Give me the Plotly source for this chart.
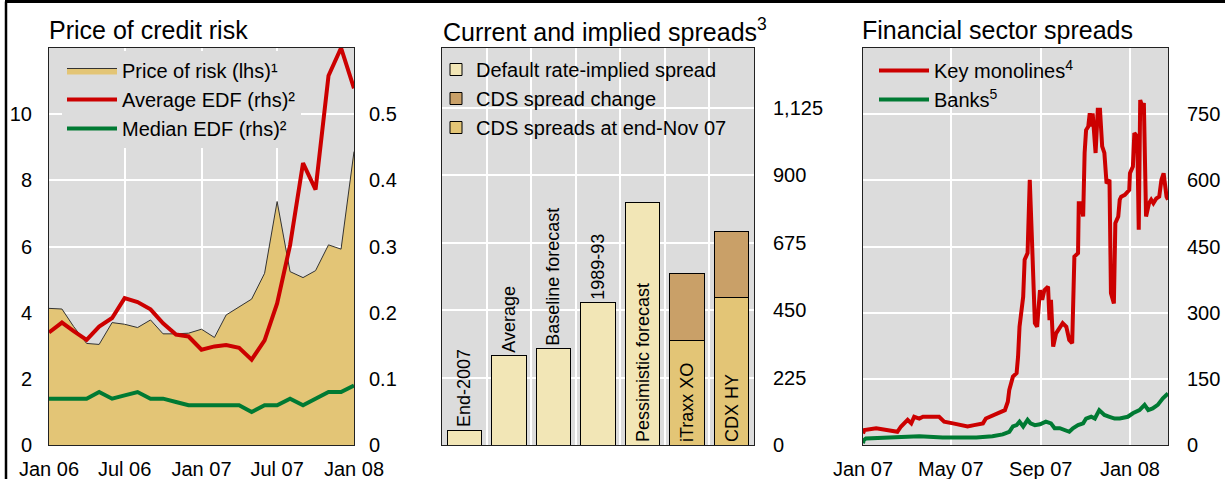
import plotly.graph_objects as go
import pandas as pd

# ---------------- Data ----------------
# Panel 1: Price of credit risk (monthly, Jan 06 - Jan 08)
months = [d.strftime("%Y-%m-%d") for d in pd.date_range("2006-01-01", periods=25, freq="MS")]
price_of_risk = [4.13, 4.11, 3.58, 3.07, 3.04, 3.70, 3.65, 3.55, 3.78, 3.36, 3.36, 3.38,
                 3.50, 3.25, 3.93, 4.18, 4.41, 5.19, 7.36, 5.24, 5.06, 5.27, 6.05, 5.92, 8.87]
average_edf = [0.170, 0.185, 0.172, 0.159, 0.179, 0.192, 0.222, 0.216, 0.205, 0.184, 0.167, 0.164,
               0.144, 0.149, 0.151, 0.147, 0.129, 0.158, 0.214, 0.302, 0.426, 0.386, 0.558, 0.600, 0.539]
median_edf = [0.07, 0.07, 0.07, 0.07, 0.08, 0.07, 0.075, 0.08, 0.07, 0.07, 0.065, 0.06,
              0.06, 0.06, 0.06, 0.06, 0.05, 0.06, 0.06, 0.07, 0.06, 0.07, 0.08, 0.08, 0.09]
p1_xticks = ["2006-01-01", "2006-07-01", "2007-01-01", "2007-07-01", "2008-01-01"]
p1_xlabels = ["Jan 06", "Jul 06", "Jan 07", "Jul 07", "Jan 08"]

# Panel 2: Current and implied spreads
categories = ["End-2007", "Average", "Baseline forecast", "1989-93",
              "Pessimistic forecast", "iTraxx XO", "CDX HY"]
default_implied = [50, 298, 321, 475, 810, None, None]
cds_end_nov = [None, None, None, None, None, 348, 492]
cds_change = [None, None, None, None, None, 224, 221]
bar_label_pos = ["outside", "outside", "outside", "outside", "inside"]
p2_yticks = [0, 225, 450, 675, 900, 1125]

# Panel 3: Financial sector spreads
mono_dates = ["2007-01-01", "2007-01-03", "2007-01-19", "2007-02-06", "2007-02-17", "2007-02-22",
              "2007-03-03", "2007-03-08", "2007-03-12", "2007-03-19", "2007-03-24", "2007-04-15",
              "2007-04-22", "2007-05-04", "2007-05-13", "2007-05-24", "2007-06-02", "2007-06-14",
              "2007-06-18", "2007-06-27", "2007-07-07", "2007-07-14", "2007-07-18", "2007-07-20",
              "2007-07-25", "2007-07-30", "2007-08-01", "2007-08-03", "2007-08-08", "2007-08-10",
              "2007-08-14", "2007-08-17", "2007-08-20", "2007-08-24", "2007-08-27", "2007-08-31",
              "2007-09-03", "2007-09-06", "2007-09-11", "2007-09-13", "2007-09-15", "2007-09-18",
              "2007-09-22", "2007-09-27", "2007-10-01", "2007-10-06", "2007-10-10", "2007-10-14",
              "2007-10-17", "2007-10-22", "2007-10-23", "2007-10-26", "2007-10-29", "2007-10-31",
              "2007-11-02", "2007-11-05", "2007-11-07", "2007-11-09", "2007-11-11", "2007-11-15",
              "2007-11-18", "2007-11-21", "2007-11-24", "2007-11-27", "2007-11-30", "2007-12-04",
              "2007-12-06", "2007-12-10", "2007-12-12", "2007-12-16", "2007-12-18", "2007-12-20",
              "2007-12-25", "2007-12-31", "2008-01-01", "2008-01-05", "2008-01-07", "2008-01-11",
              "2008-01-13", "2008-01-15", "2008-01-18", "2008-01-20", "2008-01-23", "2008-01-27",
              "2008-01-30", "2008-02-02", "2008-02-06", "2008-02-10", "2008-02-13", "2008-02-16",
              "2008-02-20", "2008-02-22"]
monolines = [26, 34, 38, 34, 30, 42, 57, 49, 64, 60, 64, 64,
             53, 49, 45, 42, 45, 49, 60, 66, 72, 79, 98, 125,
             155, 163, 200, 268, 336, 420, 435, 601, 465, 276, 268, 351,
             329, 351, 359, 283, 329, 223, 253, 268, 276, 268, 238, 231,
             427, 435, 548, 548, 518, 662, 714, 722, 752, 722, 752, 662,
             760, 760, 677, 662, 593, 601, 344, 321, 503, 518, 556, 563,
             567, 578, 616, 631, 707, 699, 488, 782, 767, 775, 518, 548,
             556, 548, 559, 563, 601, 616, 563, 556]
bank_dates = ["2007-01-01", "2007-01-02", "2007-01-05", "2007-02-11", "2007-03-19", "2007-04-20",
              "2007-06-05", "2007-06-27", "2007-07-11", "2007-07-20", "2007-07-25", "2007-07-30",
              "2007-08-03", "2007-08-08", "2007-08-14", "2007-08-18", "2007-08-24", "2007-08-31",
              "2007-09-08", "2007-09-15", "2007-09-20", "2007-09-27", "2007-10-04", "2007-10-10",
              "2007-10-15", "2007-10-22", "2007-10-29", "2007-11-02", "2007-11-09", "2007-11-14",
              "2007-11-20", "2007-11-27", "2007-12-04", "2007-12-11", "2007-12-18", "2007-12-29",
              "2008-01-05", "2008-01-10", "2008-01-14", "2008-01-21", "2008-01-26", "2008-02-01",
              "2008-02-08", "2008-02-15", "2008-02-22"]
banks = [4, 11, 15, 17, 20, 17, 17, 20, 24, 30, 42, 45,
         53, 42, 57, 49, 45, 47, 53, 49, 38, 38, 34, 30,
         38, 45, 49, 60, 64, 60, 79, 68, 64, 60, 60, 64,
         72, 76, 79, 91, 79, 83, 91, 106, 117]
p3_xticks = ["2007-01-01", "2007-05-01", "2007-09-01", "2008-01-01"]
p3_xlabels = ["Jan 07", "May 07", "Sep 07", "Jan 08"]
p3_yticks = [0, 150, 300, 450, 600, 750]

# ---------------- Style ----------------
W, H = 1225, 479
FONT = "Arial, Liberation Sans, sans-serif"
PLOT_BG = "#DCDCDC"
RED = "#CC0000"
GREEN = "#007A33"
GOLD = "#E3C576"
LIGHT = "#F2E6B6"
BROWN = "#C9A068"
TICK_FONT = dict(family=FONT, size=20, color="black")
LABEL_FONT = dict(family=FONT, size=18, color="black")

def px_x(p):
    return p / W

def px_y(p):
    return 1 - p / H

ydom = [px_y(445), px_y(48)]

fig = go.Figure()

# Panel 1 traces
fig.add_trace(go.Scatter(x=months, y=price_of_risk, name="Price of risk (lhs)¹",
                         mode="lines", fill="tozeroy", fillcolor=GOLD,
                         line=dict(color="#333333", width=1),
                         xaxis="x", yaxis="y", legend="legend"))
fig.add_trace(go.Scatter(x=months, y=average_edf, name="Average EDF (rhs)²",
                         mode="lines", line=dict(color=RED, width=4),
                         xaxis="x", yaxis="y2", legend="legend"))
fig.add_trace(go.Scatter(x=months, y=median_edf, name="Median EDF (rhs)²",
                         mode="lines", line=dict(color=GREEN, width=4),
                         xaxis="x", yaxis="y2", legend="legend"))

# Panel 2 traces
fig.add_trace(go.Bar(x=categories[:5], y=default_implied[:5], name="Default rate-implied spread",
                     marker=dict(color=LIGHT, line=dict(color="black", width=1)),
                     width=0.77, text=categories[:5], textposition=bar_label_pos,
                     textangle=-90, insidetextanchor="start", cliponaxis=False,
                     constraintext="none",
                     textfont=LABEL_FONT, insidetextfont=LABEL_FONT, outsidetextfont=LABEL_FONT,
                     xaxis="x2", yaxis="y3", legend="legend2", legendrank=1))
fig.add_trace(go.Bar(x=categories[5:], y=cds_end_nov[5:], name="CDS spreads at end-Nov 07",
                     marker=dict(color=GOLD, line=dict(color="black", width=1)),
                     width=0.77, text=categories[5:],
                     textposition="inside", textangle=-90, insidetextanchor="start",
                     constraintext="none", insidetextfont=LABEL_FONT,
                     xaxis="x2", yaxis="y3", legend="legend2", legendrank=3))
fig.add_trace(go.Bar(x=categories[5:], y=cds_change[5:], name="CDS spread change",
                     marker=dict(color=BROWN, line=dict(color="black", width=1)),
                     width=0.77,
                     xaxis="x2", yaxis="y3", legend="legend2", legendrank=2))

# Panel 3 traces
fig.add_trace(go.Scatter(x=mono_dates, y=monolines, name="Key monolines<sup>4</sup>",
                         mode="lines", line=dict(color=RED, width=4),
                         xaxis="x3", yaxis="y4", legend="legend3"))
fig.add_trace(go.Scatter(x=bank_dates, y=banks, name="Banks<sup>5</sup>",
                         mode="lines", line=dict(color=GREEN, width=4),
                         xaxis="x3", yaxis="y4", legend="legend3"))

axis_common = dict(showline=True, linecolor="#222222", linewidth=1, mirror=True,
                   ticks="", tickfont=TICK_FONT, gridcolor="white", gridwidth=2,
                   zeroline=False, automargin=False)

legend_common = dict(font=dict(family=FONT, size=20, color="black"),
                     borderwidth=0, yanchor="top",
                     xanchor="left", tracegroupgap=0, traceorder="normal")

fig.update_layout(
    width=W, height=H, autosize=False,
    margin=dict(l=0, r=0, t=0, b=0, autoexpand=False),
    paper_bgcolor="white", plot_bgcolor=PLOT_BG,
    font=dict(family=FONT, size=20, color="black"),
    barmode="stack",
    showlegend=True,
    xaxis=dict(domain=[px_x(49), px_x(354)], anchor="y", type="date",
               range=["2006-01-01", "2008-01-01"], tickvals=p1_xticks, ticktext=p1_xlabels,
               showgrid=True, ticklabelstandoff=6, **axis_common),
    yaxis=dict(domain=ydom, anchor="x", range=[0, 12], tickvals=[0, 2, 4, 6, 8, 10],
               showgrid=True, ticklabelstandoff=12, **axis_common),
    yaxis2=dict(overlaying="y", anchor="x", side="right", range=[0, 0.6],
                tickvals=[0, 0.1, 0.2, 0.3, 0.4, 0.5], showgrid=False, showline=False,
                ticks="", tickfont=TICK_FONT, zeroline=False, ticklabelstandoff=14,
                automargin=False),
    xaxis2=dict(domain=[px_x(442), px_x(754)], anchor="y3", type="category",
                categoryorder="array", categoryarray=categories,
                range=[-0.5, 6.5], showticklabels=False, tickson="boundaries",
                showgrid=True, **axis_common),
    yaxis3=dict(domain=ydom, anchor="x2", side="right", range=[0, 1325],
                tickvals=p2_yticks, tickformat=",", showgrid=True,
                ticklabelstandoff=14, **axis_common),
    xaxis3=dict(domain=[px_x(863), px_x(1168)], anchor="y4", type="date",
                range=["2007-01-01", "2008-02-22"], tickvals=p3_xticks, ticktext=p3_xlabels,
                showgrid=True, ticklabelstandoff=6, **axis_common),
    yaxis4=dict(domain=ydom, anchor="x3", side="right", range=[0, 900],
                tickvals=p3_yticks, showgrid=True, ticklabelstandoff=14, **axis_common),
    legend=dict(x=px_x(62), y=px_y(51), bgcolor=PLOT_BG, itemwidth=50, **legend_common),
    legend2=dict(x=px_x(436), y=px_y(50), bgcolor="rgba(0,0,0,0)", **legend_common),
    legend3=dict(x=px_x(874), y=px_y(51), bgcolor="rgba(0,0,0,0)", itemwidth=50, **legend_common),
)

# Panel titles
titles = [("Price of credit risk", 47), ("Current and implied spreads<sup>3</sup>", 441),
          ("Financial sector spreads", 860)]
for txt, xp in titles:
    fig.add_annotation(text=txt, xref="paper", yref="paper", x=px_x(xp), y=px_y(30),
                       xanchor="left", yanchor="middle", showarrow=False,
                       font=dict(family=FONT, size=25, color="black"))

# Outer frame (top and left rule)
fig.add_shape(type="line", xref="paper", yref="paper", x0=px_x(5), x1=1,
              y0=px_y(1.5), y1=px_y(1.5), line=dict(color="black", width=3))
fig.add_shape(type="line", xref="paper", yref="paper", x0=px_x(6), x1=px_x(6),
              y0=0, y1=px_y(1.5), line=dict(color="black", width=2.5))

fig.write_html("out.html", config={"displayModeBar": False},
               post_script="document.body.style.margin='0';document.body.style.overflow='hidden';")
